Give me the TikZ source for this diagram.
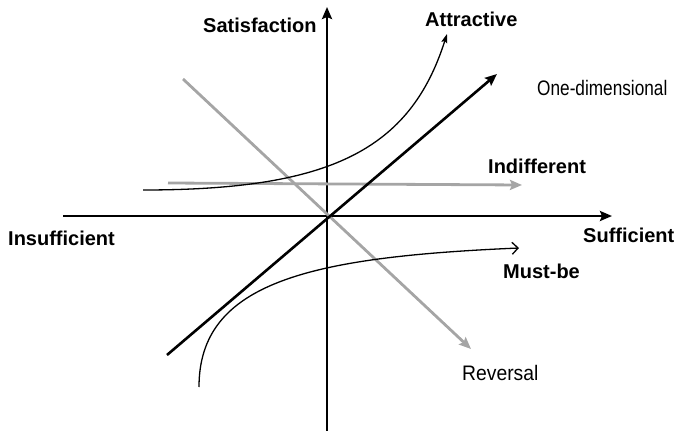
\documentclass[tikz,border=0pt]{standalone}
\usepackage{fontspec}
\setmainfont{Liberation Sans}
\usetikzlibrary{arrows.meta}
\definecolor{CurveGray}{RGB}{165,165,165}

\begin{document}
\begin{tikzpicture}[x=1pt, y=-1pt,
lbl/.style={inner sep=0pt, anchor=base west, font=\fontsize{20}{24}\selectfont\bfseries},
lbllight/.style={lbl, font=\fontsize{21}{25}\selectfont},
axis/.style={draw=black, line width=2.6pt, -{Stealth[length=12pt, width=10pt, inset=2pt]}},
thin/.style={draw=black, line width=1.3pt},
grayline/.style={draw=CurveGray, line width=2.8pt, -{Stealth[length=12pt, width=10pt, inset=2pt]}}]
\useasboundingbox (0,0) rectangle (675,431);
% axes
\coordinate (xl) at (63,216); \coordinate (xr) at (612,216);
\coordinate (yb) at (327,431); \coordinate (yt) at (327,7);
\draw[axis] (xl) -- (xr);
\draw[axis] (yb) -- (yt);
% curves
\coordinate (a0) at (143,190); \coordinate (a1) at (447,34);
\coordinate (m0) at (199,387); \coordinate (m1) at (519,248);
\coordinate (d0) at (167,355); \coordinate (d1) at (497,74);
\coordinate (i0) at (168,183); \coordinate (i1) at (522,185);
\coordinate (r0) at (183,79); \coordinate (r1) at (471,349);
\draw[grayline] (i0) -- (i1);
\draw[grayline] (r0) -- (r1);
\draw[thin, -{Stealth[length=9pt, width=6pt, inset=1.5pt]}] (a0) .. controls (330,190) and (410,150) .. (a1);
\draw[axis] (d0) -- (d1);
\draw[thin, -{Straight Barb[length=6pt, width=12pt]}] (m0) .. controls (199,282) and (310,257) .. (m1);
% labels
\node[lbl] (sat) at (203,32) {Satisfaction};
\node[lbl] (att) at (425,27) {Attractive};
\node[lbllight] (one) at (537,95) {\scalebox{0.82}[1]{One-dimensional}};
\node[lbl] (ind) at (488,173) {Indifferent};
\node[lbl] (ins) at (8,245) {Insufficient};
\node[lbl] (suf) at (583,242) {Sufficient};
\node[lbl] (must) at (503,278) {Must-be};
\node[lbllight] (rev) at (462,380) {\scalebox{0.92}[1]{Reversal}};
\end{tikzpicture}
\end{document}
